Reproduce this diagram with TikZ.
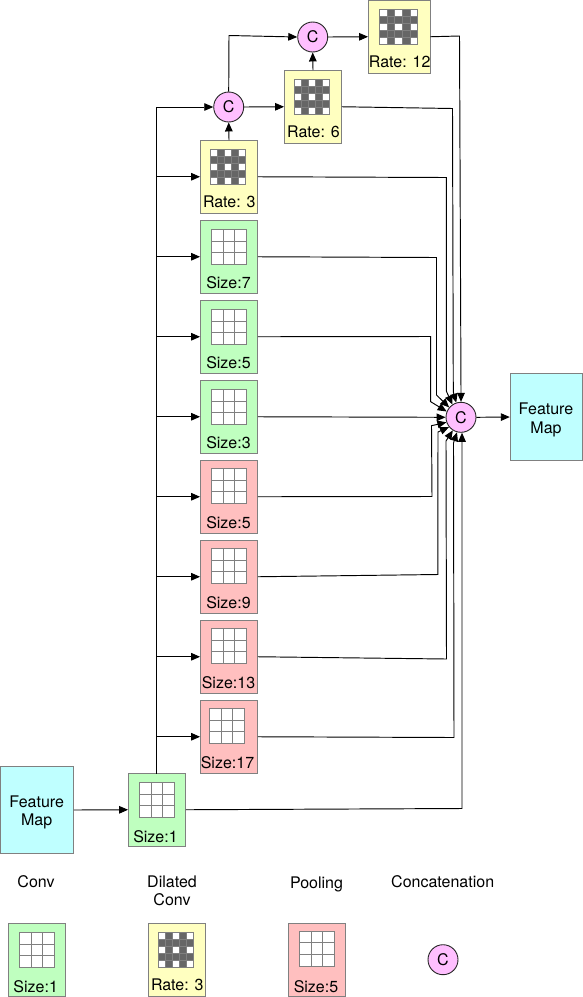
\documentclass[tikz,border=0pt]{standalone}
\usepackage{fontspec}
\setmainfont{TeX Gyre Heros}
\usetikzlibrary{arrows.meta}
\definecolor{cgreen}{HTML}{BFFFBF}
\definecolor{cyell}{HTML}{FFFFC0}
\definecolor{cred}{HTML}{FFBFBF}
\definecolor{ccyan}{HTML}{BFFFFF}
\definecolor{cpink}{HTML}{FFBFFF}
\definecolor{cedge}{HTML}{808080}
\definecolor{cdark}{HTML}{666666}
\tikzset{
  blk/.style={draw=cedge,line width=0.9pt,inner sep=0pt,minimum width=57pt,minimum height=72.5pt},
  fmap/.style={draw=cedge,fill=ccyan,line width=0.9pt,inner sep=0pt,minimum width=73pt,minimum height=86.5pt},
  cat/.style={circle,draw=black!85,fill=cpink,line width=0.9pt,inner sep=0pt,minimum size=30pt,font=\fontsize{16}{18}\selectfont},
  txt/.style={inner sep=0pt,align=center,font=\fontsize{16}{18.2}\selectfont},
  arr/.style={draw=black,line width=0.95pt,-{Triangle[length=9pt,width=7.6pt]}},
  gridl/.style={draw=cedge,line width=0.9pt},
}
% simple 3x3 grid, top-left (#1,#2)
\newcommand{\sgrid}[2]{%
  \fill[white] (#1,#2) rectangle ({#1+35.3},{#2+35});
  \draw[gridl] (#1,#2) rectangle ({#1+35.3},{#2+35});
  \draw[gridl] ({#1+12.3},#2) -- ({#1+12.3},{#2+35});
  \draw[gridl] ({#1+23},#2) -- ({#1+23},{#2+35});
  \draw[gridl] (#1,{#2+11.7}) -- ({#1+35.3},{#2+11.7});
  \draw[gridl] (#1,{#2+23}) -- ({#1+35.3},{#2+23});
}
% dilated 5x5 grid, top-left (#1,#2), width #3
\newcommand{\dgrid}[3]{%
  \fill[cdark] (#1,#2) rectangle ({#1+#3},{#2+35});
  \foreach \cc in {0,2,4}{\foreach \rr in {0,2,4}{
    \fill[white] ({#1+\cc*#3/5},{#2+\rr*7}) rectangle ({#1+(\cc+1)*#3/5},{#2+(\rr+1)*7});
  }}
  \draw[gridl] (#1,#2) rectangle ({#1+#3},{#2+35});
  \foreach \cc in {1,2,3,4}{\draw[draw=cedge,line width=0.6pt] ({#1+\cc*#3/5},#2) -- ({#1+\cc*#3/5},{#2+35});}
  \foreach \rr in {1,2,3,4}{\draw[draw=cedge,line width=0.6pt] (#1,{#2+\rr*7}) -- ({#1+#3},{#2+\rr*7});}
}
% block: name, left, top, colour, label, label x, label y
\newcommand{\blkbox}[7]{%
  \node[blk,fill=#4] (#1) at ({#2+28.5},{#3+36.25}) {};
  \node[txt] (#1t) at (#6,#7) {#5};
}
\begin{document}
\begin{tikzpicture}[x=1pt,y=-1pt]
\useasboundingbox (0,0) rectangle (583,997);

% blocks
\node[blk,fill=cyell,minimum width=61.5pt] (r12) at (399.25,36.75) {};
\node[txt] (r12t) at (399.7,62) {Rate: 12};
\dgrid{379.3}{9.3}{38.3}
\blkbox{r6}{284.5}{70.5}{cyell}{Rate: 6}{313.5}{132}
\dgrid{294.3}{79.3}{35}
\blkbox{r3}{200.5}{140.5}{cyell}{Rate: 3}{229.3}{202}
\dgrid{210.7}{149.3}{35}

\blkbox{g7}{200.5}{220.5}{cgreen}{Size:7}{228.5}{283}
\sgrid{211.4}{229.3}
\blkbox{g5}{200.5}{300.5}{cgreen}{Size:5}{228.5}{363}
\sgrid{211.4}{309.3}
\blkbox{g3}{200.5}{380.5}{cgreen}{Size:3}{228.5}{443}
\sgrid{211.4}{389.3}
\blkbox{p5}{200.5}{460.5}{cred}{Size:5}{228.5}{523}
\sgrid{211.4}{468.3}
\blkbox{p9}{200.5}{540.5}{cred}{Size:9}{228.5}{603}
\sgrid{211.4}{548.3}
\blkbox{p13}{200.5}{620.5}{cred}{Size:13}{228.5}{683}
\sgrid{211.4}{628.3}
\blkbox{p17}{200.5}{700.5}{cred}{Size:17}{227.5}{763}
\sgrid{209.6}{708.3}
\blkbox{s1}{128.5}{773.5}{cgreen}{Size:1}{155.5}{837}
\sgrid{139.4}{782.3}

\node[fmap] (fl) at (37,810) {};
\node[txt] (flt) at (36.7,812.5) {Feature\\Map};
\node[fmap,minimum width=72.5pt] (fr) at (546.5,417) {};
\node[txt] (frt) at (546,420) {Feature\\Map};

\node[cat] (c1) at (312.7,37) {C};
\node[cat] (c2) at (228.7,107) {C};
\node[cat] (mc) at (461,417.3) {C};

% input connectors
\coordinate (bus) at (156.5,773.5);
\draw[arr] (fl.east) -- (s1.west);
\draw[arr] (bus) |- (c2.west);
\foreach \n in {r3,g7,g5,g3,p5,p9,p13,p17}{
  \draw[arr] (bus |- \n.west) -- (\n.west);
}
\draw[arr] (r3.north) -- (c2.south);
\draw[arr] (c2.east) -- (r6.west);
\draw[arr] (r6.north) -- (c1.south);
\coordinate (c2up) at (229,35.5);
\draw[arr] (c2.north) -- (c2up) -- (c1.west);
\draw[arr] (c1.east) -- (r12.west);

% output connectors
\coordinate (a1) at (459.5,36); \coordinate (a1b) at (461,392);
\draw[arr] (r12.east) -- (a1) -- (a1b) -- (mc.90);
\coordinate (a2) at (452.5,108.5); \coordinate (a2b) at (453.3,392);
\draw[arr] (r6.east) -- (a2) -- (a2b) -- (mc.108);
\coordinate (a3) at (446.3,177.5); \coordinate (a3b) at (446.3,391);
\draw[arr] (r3.east) -- (a3) -- (a3b) -- (mc.124);
\coordinate (a4) at (436.5,257.5); \coordinate (a4b) at (436.5,395);
\draw[arr] (g7.east) -- (a4) -- (a4b) -- (mc.140);
\coordinate (a5) at (430.7,336.5); \coordinate (a5b) at (430.7,401.7);
\draw[arr] (g5.east) -- (a5) -- (a5b) -- (mc.158);
\draw[arr] (g3.east) -- (mc.west);
\coordinate (b5) at (432,496.5); \coordinate (b5b) at (431.5,425.7);
\draw[arr] (p5.east) -- (b5) -- (b5b) -- (mc.199);
\coordinate (b9) at (437.8,574.5); \coordinate (b9b) at (438,432);
\draw[arr] (p9.east) -- (b9) -- (b9b) -- (mc.219);
\coordinate (b13) at (446.5,659); \coordinate (b13b) at (446,441);
\draw[arr] (p13.east) -- (b13) -- (b13b) -- (mc.238);
\coordinate (b17) at (454,737.5); \coordinate (b17b) at (453.5,443);
\draw[arr] (p17.east) -- (b17) -- (b17b) -- (mc.255);
\coordinate (b1) at (462,808.5);
\draw[arr] (s1.east) -- (b1) -- (mc.south -| b1);
\draw[arr] (mc.east) -- (fr.west);

% legend
\node[txt] (lconv) at (36,882) {Conv};
\node[txt] (ldil) at (172,891) {Dilated\\Conv};
\node[txt] (lpool) at (316.5,884) {Pooling};
\node[txt] (lcat) at (442.7,882) {Concatenation};
\blkbox{lg}{8.5}{923.5}{cgreen}{Size:1}{35.7}{986.5}
\sgrid{19.3}{932.3}
\blkbox{ly}{148.5}{923.5}{cyell}{Rate: 3}{177.3}{984.5}
\dgrid{158.3}{932.3}{35.3}
\blkbox{lr}{288.5}{923.5}{cred}{Size:5}{316}{986.5}
\sgrid{299.4}{931}
\node[cat] (lc) at (443,959.7) {C};
\end{tikzpicture}
\end{document}
